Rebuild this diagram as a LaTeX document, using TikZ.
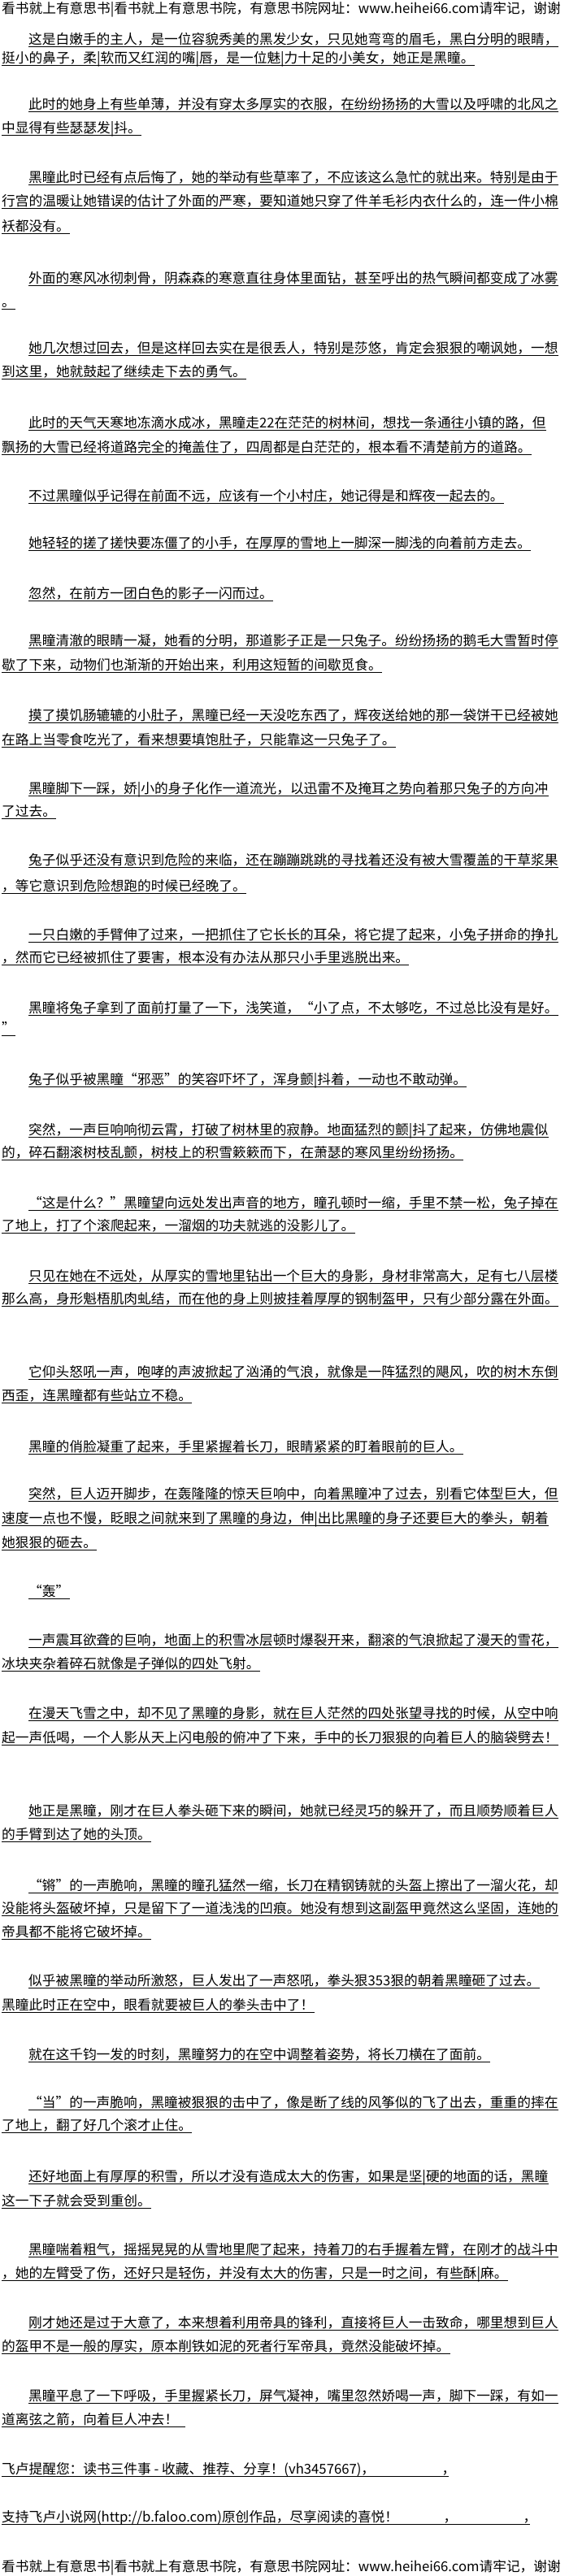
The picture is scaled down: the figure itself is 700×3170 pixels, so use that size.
\documentclass[tikz,border=0pt]{standalone}
\usepackage{fontspec}
\setmainfont{Noto Sans CJK SC}
\tikzset{
  txt/.style={anchor=base west, inner sep=0pt, text=black, font=\fontsize{16.7pt}{20pt}\selectfont},
  ul/.style={draw=black, line width=0.9pt}
}
% line with underline: name, x, glyph-centre y (from top), text
\newcommand{\mytl}[4]{\node[txt] (#1) at (#2,{-#3-6}) {#4};
  \draw[ul] ([yshift=-3pt]#1.base west) -- ([yshift=-3pt]#1.base east);}
\newcommand{\myplain}[4]{\node[txt] (#1) at (#2,{-#3-6}) {#4};}
\begin{document}
\begin{tikzpicture}[x=1pt,y=1pt]
\path[fill=white] (0,0) rectangle (700,-3170);
\useasboundingbox (0,0) rectangle (700,-3170);
\def\I{35}
\def\N{2}
\myplain{h1}{\N}{10}{看书就上有意思书|看书就上有意思书院，有意思书院网址：www.heihei66.com请牢记，谢谢}
\mytl{l2}{\I}{48}{这是白嫩手的主人，是一位容貌秀美的黑发少女，只见她弯弯的眉毛，黑白分明的眼睛，}
\mytl{l3}{\N}{71}{挺小的鼻子，柔|软而又红润的嘴|唇，是一位魅|力十足的小美女，她正是黑瞳。}
\mytl{l4}{\I}{128}{此时的她身上有些单薄，并没有穿太多厚实的衣服，在纷纷扬扬的大雪以及呼啸的北风之}
\mytl{l5}{\N}{157}{中显得有些瑟瑟发|抖。}
\mytl{l6}{\I}{218}{黑瞳此时已经有点后悔了，她的举动有些草率了，不应该这么急忙的就出来。特别是由于}
\mytl{l7}{\N}{247}{行宫的温暖让她错误的估计了外面的严寒，要知道她只穿了件羊毛衫内衣什么的，连一件小棉}
\mytl{l8}{\N}{278}{袄都没有。}
\mytl{l9}{\I}{342}{外面的寒风冰彻刺骨，阴森森的寒意直往身体里面钻，甚至呼出的热气瞬间都变成了冰雾}
\mytl{l10}{\N}{371}{。}
\mytl{l11}{\I}{428}{她几次想过回去，但是这样回去实在是很丢人，特别是莎悠，肯定会狠狠的嘲讽她，一想}
\mytl{l12}{\N}{457}{到这里，她就鼓起了继续走下去的勇气。}
\mytl{l13}{\I}{520}{此时的天气天寒地冻滴水成冰，黑瞳走22在茫茫的树林间，想找一条通往小镇的路，但}
\mytl{l14}{\N}{550}{飘扬的大雪已经将道路完全的掩盖住了，四周都是白茫茫的，根本看不清楚前方的道路。}
\mytl{l15}{\I}{610}{不过黑瞳似乎记得在前面不远，应该有一个小村庄，她记得是和辉夜一起去的。}
\mytl{l16}{\I}{668}{她轻轻的搓了搓快要冻僵了的小手，在厚厚的雪地上一脚深一脚浅的向着前方走去。}
\mytl{l17}{\I}{730}{忽然，在前方一团白色的影子一闪而过。}
\mytl{l18}{\I}{788}{黑瞳清澈的眼睛一凝，她看的分明，那道影子正是一只兔子。纷纷扬扬的鹅毛大雪暂时停}
\mytl{l19}{\N}{818}{歇了下来，动物们也渐渐的开始出来，利用这短暂的间歇觅食。}
\mytl{l20}{\I}{880}{摸了摸饥肠辘辘的小肚子，黑瞳已经一天没吃东西了，辉夜送给她的那一袋饼干已经被她}
\mytl{l21}{\N}{910}{在路上当零食吃光了，看来想要填饱肚子，只能靠这一只兔子了。}
\mytl{l22}{\I}{970}{黑瞳脚下一踩，娇|小的身子化作一道流光，以迅雷不及掩耳之势向着那只兔子的方向冲}
\mytl{l23}{\N}{998}{了过去。}
\mytl{l24}{\I}{1058}{兔子似乎还没有意识到危险的来临，还在蹦蹦跳跳的寻找着还没有被大雪覆盖的干草浆果}
\mytl{l25}{\N}{1090}{，等它意识到危险想跑的时候已经晚了。}
\mytl{l26}{\I}{1150}{一只白嫩的手臂伸了过来，一把抓住了它长长的耳朵，将它提了起来，小兔子拼命的挣扎}
\mytl{l27}{\N}{1178}{，然而它已经被抓住了要害，根本没有办法从那只小手里逃脱出来。}
\mytl{l28}{\I}{1240}{黑瞳将兔子拿到了面前打量了一下，浅笑道，“小了点，不太够吃，不过总比没有是好。}
\mytl{l29}{\N}{1265}{”}
\mytl{l30}{\I}{1328}{兔子似乎被黑瞳“邪恶”的笑容吓坏了，浑身颤|抖着，一动也不敢动弹。}
\mytl{l31}{\I}{1390}{突然，一声巨响响彻云霄，打破了树林里的寂静。地面猛烈的颤|抖了起来，仿佛地震似}
\mytl{l32}{\N}{1418}{的，碎石翻滚树枝乱颤，树枝上的积雪簌簌而下，在萧瑟的寒风里纷纷扬扬。}
\mytl{l33}{\I}{1480}{“这是什么？”黑瞳望向远处发出声音的地方，瞳孔顿时一缩，手里不禁一松，兔子掉在}
\mytl{l34}{\N}{1508}{了地上，打了个滚爬起来，一溜烟的功夫就逃的没影儿了。}
\mytl{l35}{\I}{1570}{只见在她在不远处，从厚实的雪地里钻出一个巨大的身影，身材非常高大，足有七八层楼}
\mytl{l36}{\N}{1598}{那么高，身形魁梧肌肉虬结，而在他的身上则披挂着厚厚的钢制盔甲，只有少部分露在外面。}
\mytl{l37}{\I}{1688}{它仰头怒吼一声，咆哮的声波掀起了汹涌的气浪，就像是一阵猛烈的飓风，吹的树木东倒}
\mytl{l38}{\N}{1717}{西歪，连黑瞳都有些站立不稳。}
\mytl{l39}{\I}{1780}{黑瞳的俏脸凝重了起来，手里紧握着长刀，眼睛紧紧的盯着眼前的巨人。}
\mytl{l40}{\I}{1838}{突然，巨人迈开脚步，在轰隆隆的惊天巨响中，向着黑瞳冲了过去，别看它体型巨大，但}
\mytl{l41}{\N}{1868}{速度一点也不慢，眨眼之间就来到了黑瞳的身边，伸|出比黑瞳的身子还要巨大的拳头，朝着}
\mytl{l42}{\N}{1898}{她狠狠的砸去。}
\mytl{l43}{\I}{1958}{“轰”}
\mytl{l44}{\I}{2018}{一声震耳欲聋的巨响，地面上的积雪冰层顿时爆裂开来，翻滚的气浪掀起了漫天的雪花，}
\mytl{l45}{\N}{2047}{冰块夹杂着碎石就像是子弹似的四处飞射。}
\mytl{l46}{\I}{2108}{在漫天飞雪之中，却不见了黑瞳的身影，就在巨人茫然的四处张望寻找的时候，从空中响}
\mytl{l47}{\N}{2138}{起一声低喝，一个人影从天上闪电般的俯冲了下来，手中的长刀狠狠的向着巨人的脑袋劈去！}
\mytl{l48}{\I}{2228}{她正是黑瞳，刚才在巨人拳头砸下来的瞬间，她就已经灵巧的躲开了，而且顺势顺着巨人}
\mytl{l49}{\N}{2257}{的手臂到达了她的头顶。}
\mytl{l50}{\I}{2320}{“锵”的一声脆响，黑瞳的瞳孔猛然一缩，长刀在精钢铸就的头盔上擦出了一溜火花，却}
\mytl{l51}{\N}{2348}{没能将头盔破坏掉，只是留下了一道浅浅的凹痕。她没有想到这副盔甲竟然这么坚固，连她的}
\mytl{l52}{\N}{2377}{帝具都不能将它破坏掉。}
\mytl{l53}{\I}{2437}{似乎被黑瞳的举动所激怒，巨人发出了一声怒吼，拳头狠353狠的朝着黑瞳砸了过去。}
\mytl{l54}{\N}{2467}{黑瞳此时正在空中，眼看就要被巨人的拳头击中了！}
\mytl{l55}{\I}{2528}{就在这千钧一发的时刻，黑瞳努力的在空中调整着姿势，将长刀横在了面前。}
\mytl{l56}{\I}{2587}{“当”的一声脆响，黑瞳被狠狠的击中了，像是断了线的风筝似的飞了出去，重重的摔在}
\mytl{l57}{\N}{2615}{了地上，翻了好几个滚才止住。}
\mytl{l58}{\I}{2678}{还好地面上有厚厚的积雪，所以才没有造成太大的伤害，如果是坚|硬的地面的话，黑瞳}
\mytl{l59}{\N}{2708}{这一下子就会受到重创。}
\mytl{l60}{\I}{2768}{黑瞳喘着粗气，摇摇晃晃的从雪地里爬了起来，持着刀的右手握着左臂，在刚才的战斗中}
\mytl{l61}{\N}{2797}{，她的左臂受了伤，还好只是轻伤，并没有太大的伤害，只是一时之间，有些酥|麻。}
\mytl{l62}{\I}{2858}{刚才她还是过于大意了，本来想着利用帝具的锋利，直接将巨人一击致命，哪里想到巨人}
\mytl{l63}{\N}{2887}{的盔甲不是一般的厚实，原本削铁如泥的死者行军帝具，竟然没能破坏掉。}
\mytl{l64}{\I}{2948}{黑瞳平息了一下呼吸，手里握紧长刀，屏气凝神，嘴里忽然娇喝一声，脚下一踩，有如一}
\myplain{l65}{\N}{2977}{道离弦之箭，向着巨人冲去！}
\coordinate (e65) at (228,-2986);
\draw[ul] ([yshift=-3pt]l65.base west) -- (e65);
\myplain{l66}{\N}{3038}{飞卢提醒您：读书三件事 - 收藏、推荐、分享！(vh3457667)，}
\coordinate (e66) at (552,-3047);
\draw[ul] ([yshift=-3pt]l66.base west) -- (e66);
\node[txt, anchor=base] (c66) at ([yshift=3pt]e66) {，};
\myplain{l67}{\N}{3097}{支持飞卢小说网(http://b.faloo.com)原创作品，尽享阅读的喜悦！}
\coordinate (e67) at (652,-3106);
\draw[ul] ([yshift=-3pt]l67.base west) -- (e67);
\node[txt, anchor=base] (c67a) at ([yshift=3pt]554,-3106) {，};
\node[txt, anchor=base] (c67b) at ([yshift=3pt]e67) {，};
\myplain{h2}{\N}{3158}{看书就上有意思书|看书就上有意思书院，有意思书院网址：www.heihei66.com请牢记，谢谢}
\end{tikzpicture}
\end{document}
